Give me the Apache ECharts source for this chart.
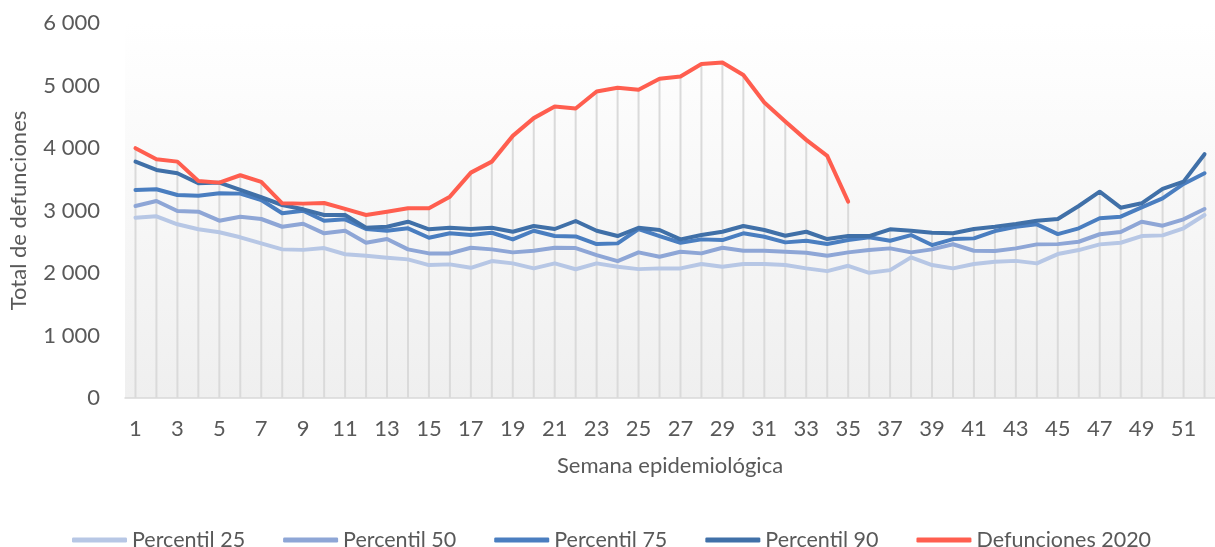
<!DOCTYPE html>
<html>
<head>
<meta charset="utf-8">
<title>Defunciones por semana epidemiológica</title>
<script src="https://cdn.jsdelivr.net/npm/echarts@6/dist/echarts.min.js"></script>
<style>
  html, body { margin: 0; padding: 0; background: #fff; }
  #chart { width: 1215px; height: 547px; }
</style>
</head>
<body>
<div id="chart"></div>
<script>
// semanas epidemiológicas
const weeks = ['1','2','3','4','5','6','7','8','9','10','11','12','13','14','15','16','17','18','19','20',
  '21','22','23','24','25','26','27','28','29','30','31','32','33','34','35','36','37','38','39','40',
  '41','42','43','44','45','46','47','48','49','50','51','52'];

const p25 = [2885, 2907, 2779, 2699, 2651, 2571, 2474, 2378, 2370, 2399, 2300, 2276, 2244, 2218, 2127, 2138,
  2083, 2191, 2154, 2074, 2154, 2060, 2154, 2099, 2062, 2074, 2074, 2143, 2099, 2143, 2143, 2127, 2074, 2030,
  2115, 2003, 2046, 2250, 2127, 2074, 2143, 2180, 2194, 2154, 2303, 2367, 2458, 2484, 2591, 2602, 2715, 2928];

const p50 = [3072, 3152, 2992, 2981, 2837, 2901, 2864, 2740, 2788, 2635, 2676, 2484, 2543, 2378, 2314, 2314,
  2404, 2378, 2330, 2356, 2404, 2399, 2287, 2191, 2330, 2260, 2340, 2314, 2404, 2356, 2356, 2340, 2324, 2276,
  2330, 2367, 2394, 2330, 2378, 2460, 2356, 2351, 2394, 2458, 2462, 2500, 2620, 2655, 2821, 2757, 2859, 3024];

const p75 = [3329, 3340, 3248, 3237, 3275, 3270, 3168, 2955, 2997, 2837, 2859, 2704, 2676, 2715, 2564, 2635,
  2607, 2644, 2538, 2676, 2591, 2585, 2463, 2474, 2704, 2591, 2484, 2538, 2527, 2635, 2580, 2490, 2516, 2463,
  2527, 2571, 2516, 2607, 2447, 2543, 2554, 2671, 2740, 2779, 2623, 2715, 2875, 2901, 3051, 3195, 3425, 3596];

const p90 = [3782, 3649, 3596, 3436, 3446, 3329, 3212, 3088, 3019, 2928, 2928, 2724, 2740, 2821, 2699, 2724,
  2704, 2724, 2660, 2752, 2704, 2832, 2676, 2591, 2724, 2688, 2538, 2607, 2660, 2752, 2688, 2596, 2660, 2543,
  2591, 2591, 2699, 2676, 2644, 2635, 2704, 2740, 2784, 2837, 2864, 3072, 3301, 3045, 3115, 3345, 3462, 3901];

// 2020 solo hasta la semana 35
const def2020 = [3997, 3820, 3782, 3473, 3446, 3564, 3457, 3115, 3110, 3120, 3025, 2928, 2981, 3035, 3035, 3221,
  3606, 3782, 4194, 4478, 4663, 4631, 4904, 4963, 4931, 5107, 5144, 5343, 5369, 5167, 4728, 4423, 4130, 3873,
  3141, null, null, null, null, null, null, null, null, null, null, null, null, null, null, null, null, null];

const yTicks = [0, 1000, 2000, 3000, 4000, 5000, 6000];

// lineas de caida: hasta el valor mas alto de cada semana
const dropLines = weeks.map((w, i) =>
  Math.max(p25[i], p50[i], p75[i], p90[i], def2020[i] == null ? 0 : def2020[i]));

const textColor = '#595959';
const font = 'Lato';

const chart = echarts.init(document.getElementById('chart'));

function lineSeries(name, data, color) {
  return {
    name: name,
    type: 'line',
    data: data,
    symbol: 'none',
    connectNulls: false,
    lineStyle: { color: color, width: 4, cap: 'round', join: 'round' },
    itemStyle: { color: color },
    emphasis: { disabled: true },
    z: 3
  };
}

const option = {
  animation: false,
  textStyle: { fontFamily: font },
  grid: {
    left: 125,
    top: 23,
    width: 1099,
    height: 375,
    show: true,
    borderWidth: 0,
    backgroundColor: new echarts.graphic.LinearGradient(0, 0, 0, 1, [
      { offset: 0, color: '#ffffff' },
      { offset: 0.13, color: '#fdfdfd' },
      { offset: 1, color: '#efefef' }
    ])
  },
  legend: {
    data: ['Percentil 25', 'Percentil 50', 'Percentil 75', 'Percentil 90', 'Defunciones 2020'],
    left: 67,
    top: 524,
    icon: 'roundRect',
    itemWidth: 55,
    itemHeight: 5,
    itemGap: 38,
    textStyle: { color: textColor, fontSize: 21.5, fontFamily: font }
  },
  xAxis: {
    type: 'category',
    data: weeks,
    boundaryGap: true,
    name: 'Semana epidemiológica',
    nameLocation: 'middle',
    nameGap: 57,
    nameTextStyle: { color: textColor, fontSize: 22, fontFamily: font },
    axisLine: { lineStyle: { color: '#d9d9d9', width: 1.5 } },
    axisTick: { show: false },
    axisLabel: { interval: 1, color: textColor, fontSize: 22, margin: 20, fontFamily: font },
    splitLine: { show: false }
  },
  yAxis: {
    type: 'value',
    min: yTicks[0],
    max: yTicks[yTicks.length - 1],
    interval: 1000,
    name: 'Total de defunciones',
    nameLocation: 'middle',
    nameRotate: 90,
    nameGap: 95,
    nameTextStyle: { color: textColor, fontSize: 22, fontFamily: font },
    axisLine: { show: false },
    axisTick: { show: false },
    splitLine: { show: false },
    axisLabel: {
      color: textColor,
      fontSize: 22,
      margin: 25,
      fontFamily: font,
      formatter: v => String(v).replace(/\B(?=(\d{3})+(?!\d))/g, ' ')
    }
  },
  series: [
    {
      name: 'caida',
      type: 'bar',
      data: dropLines,
      barWidth: 2,
      silent: true,
      itemStyle: { color: '#dadada' },
      z: 1
    },
    lineSeries('Percentil 25', p25, '#b7c7e5'),
    lineSeries('Percentil 50', p50, '#8ea6d6'),
    lineSeries('Percentil 75', p75, '#4a7ec0'),
    lineSeries('Percentil 90', p90, '#4070a8'),
    lineSeries('Defunciones 2020', def2020, '#ff5e4f')
  ]
};

chart.setOption(option);
</script>
</body>
</html>
